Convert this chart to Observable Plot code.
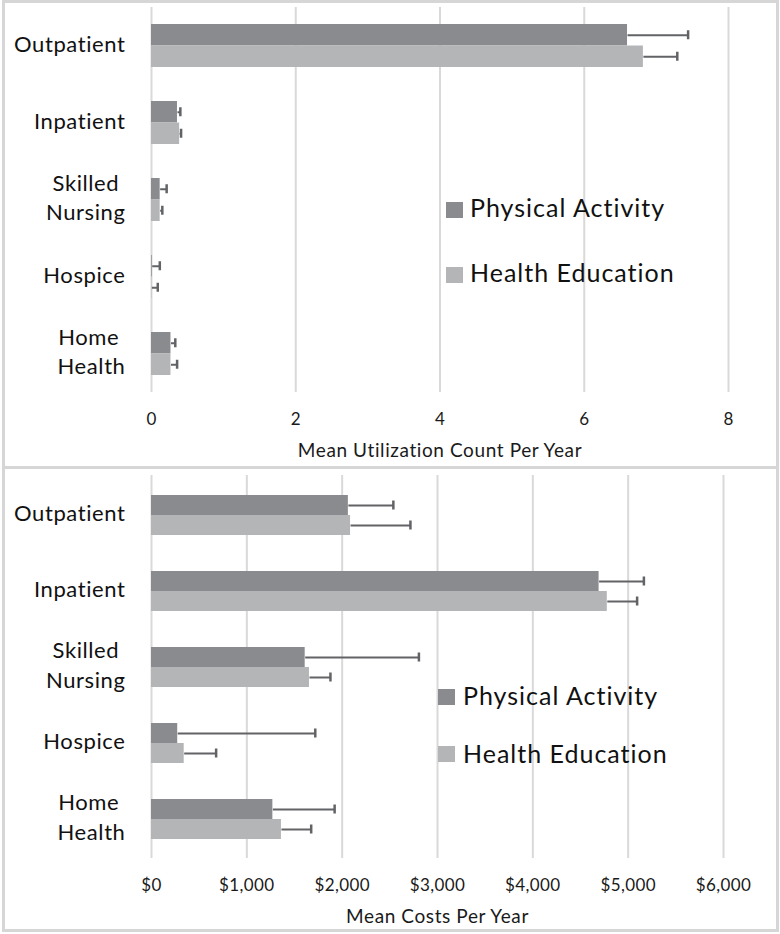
<!DOCTYPE html>
<html>
<head>
<meta charset="utf-8">
<script src="https://cdn.jsdelivr.net/npm/d3@7"></script>
<script src="https://cdn.jsdelivr.net/npm/@observablehq/plot@0.6"></script>
<style>
  html, body { margin: 0; padding: 0; background: #fff; }
  #wrap { position: relative; width: 780px; height: 934px; background: #fff; overflow: hidden; font-family: Lato, sans-serif; }
  .panel { position: absolute; left: 0; width: 780px; height: 467px; }
  .border { position: absolute; box-sizing: border-box; border: 3px solid #d6d6d6; pointer-events: none; }
  .sw { position: absolute; width: 17px; height: 16px; }
  .lt { position: absolute; font-size: 25px; line-height: 30px; letter-spacing: 1px; color: #111; white-space: nowrap; }
  .panel svg g[aria-label="text"] text { letter-spacing: 0.6px; }
  .panel svg g[aria-label="x-axis tick label"] text { letter-spacing: 0.4px; }
</style>
</head>
<body>
<div id="wrap">
  <div id="p1" class="panel" style="top:0px"></div>
  <div id="p2" class="panel" style="top:467px"></div>
  <div class="border" style="left:2px; top:0px; width:777px; height:469px"></div>
  <div class="border" style="left:2px; top:466px; width:777px; height:466px"></div>
  <div id="legend"></div>
</div>
<script>
// ---------- data ----------
const categories = ["Outpatient", "Inpatient", "Skilled Nursing", "Hospice", "Home Health"];
const categoryLabels = ["Outpatient", "Inpatient", "Skilled\u00a0\nNursing", "Hospice", "Home\u00a0\nHealth"];
const seriesNames = ["Physical Activity", "Health Education"];
const seriesColors = ["#8a8b8f", "#b4b5b7"];

// Mean utilization count per year (bar value, upper end of error bar)
const utilPA   = [6.60, 0.36, 0.12, 0.01, 0.27];
const utilPAHi = [7.44, 0.40, 0.21, 0.115, 0.33];
const utilHE   = [6.82, 0.39, 0.12, 0.005, 0.27];
const utilHEHi = [7.29, 0.41, 0.15, 0.087, 0.355];

// Mean costs per year (bar value, upper end of error bar)
const costPA   = [2065, 4695, 1612, 275, 1273];
const costPAHi = [2537, 5165, 2805, 1718, 1921];
const costHE   = [2088, 4781, 1657, 343, 1363];
const costHEHi = [2716, 5094, 1877, 678, 1675];

const utilTicks = [0, 2, 4, 6, 8];
const costTicks = [0, 1000, 2000, 3000, 4000, 5000, 6000];

const utilTitle = "Mean Utilization Count Per Year";
const costTitle = "Mean Costs Per Year";

// ---------- chart ----------
function rowsOf(pa, paHi, he, heHi) {
  return categories.map((c, i) => ({category: c, label: categoryLabels[i], pa: pa[i], paHi: paHi[i], he: he[i], heHi: heHi[i]}));
}

function panel({rows, ticks, tickFormat, title, marginTop, marginBottom, marginRight, paddingInner, paddingOuter, bw}) {
  const errColor = "#626366";
  const capHalf = 4.5;
  return Plot.plot({
    width: 780,
    height: 467,
    marginTop,
    marginBottom,
    marginLeft: 151,
    marginRight,
    style: {background: "transparent", fontFamily: "Lato, sans-serif", fontSize: "17px", color: "#1a1a1a", overflow: "visible"},
    x: {domain: [ticks[0], ticks[ticks.length - 1]], ticks, tickFormat, tickSize: 0, tickPadding: 20, label: null},
    y: {domain: categories, paddingInner, paddingOuter, axis: null},
    marks: [
      Plot.ruleX(ticks, {stroke: "#d9d9d9", strokeWidth: 2}),
      Plot.barX(rows, {x1: 0, x2: "pa", y: "category", fill: seriesColors[0], insetBottom: bw / 2}),
      Plot.barX(rows, {x1: 0, x2: "he", y: "category", fill: seriesColors[1], insetTop: bw / 2}),
      Plot.link(rows, {x1: "pa", x2: "paHi", y1: "category", y2: "category", dy: -bw / 4, stroke: errColor, strokeWidth: 2}),
      Plot.link(rows, {x1: "he", x2: "heHi", y1: "category", y2: "category", dy: bw / 4, stroke: errColor, strokeWidth: 2}),
      Plot.tickX(rows, {x: "paHi", y: "category", insetTop: bw / 4 - capHalf, insetBottom: 3 * bw / 4 - capHalf, stroke: errColor, strokeWidth: 2.5}),
      Plot.tickX(rows, {x: "heHi", y: "category", insetTop: 3 * bw / 4 - capHalf, insetBottom: bw / 4 - capHalf, stroke: errColor, strokeWidth: 2.5}),
      Plot.text(rows, {y: "category", text: "label", frameAnchor: "left", textAnchor: "end", dx: -26, dy: -4, fontSize: 22, lineHeight: 1.35, fill: "#111"}),
      Plot.text([title], {frameAnchor: "bottom", lineAnchor: "middle", dy: 58, fontSize: 19, fill: "#1a1a1a"})
    ]
  });
}

document.getElementById("p1").append(panel({
  rows: rowsOf(utilPA, utilPAHi, utilHE, utilHEHi),
  ticks: utilTicks,
  tickFormat: d => String(d),
  title: utilTitle,
  marginTop: 7, marginBottom: 75, marginRight: 52,
  paddingInner: 0.443, paddingOuter: 0.214, bw: 43
}));

document.getElementById("p2").append(panel({
  rows: rowsOf(costPA, costPAHi, costHE, costHEHi),
  ticks: costTicks,
  tickFormat: d => "$" + d3.format(",")(d),
  title: costTitle,
  marginTop: 8, marginBottom: 76, marginRight: 57,
  paddingInner: 0.479, paddingOuter: 0.233, bw: 40
}));

// ---------- legends ----------
const legendSpots = [
  {sx: 446, textX: 470, items: [{sy: 202, ty: 192}, {sy: 267, ty: 257}]},
  {sx: 438, textX: 463, items: [{sy: 689, ty: 680}, {sy: 746, ty: 738}]}
];
const legend = document.getElementById("legend");
legendSpots.forEach(spot => {
  spot.items.forEach((it, i) => {
    const sw = document.createElement("div");
    sw.className = "sw";
    sw.style.left = spot.sx + "px";
    sw.style.top = it.sy + "px";
    sw.style.background = seriesColors[i];
    legend.append(sw);
    const t = document.createElement("div");
    t.className = "lt";
    t.style.left = spot.textX + "px";
    t.style.top = it.ty + "px";
    t.textContent = seriesNames[i];
    legend.append(t);
  });
});
</script>
</body>
</html>
